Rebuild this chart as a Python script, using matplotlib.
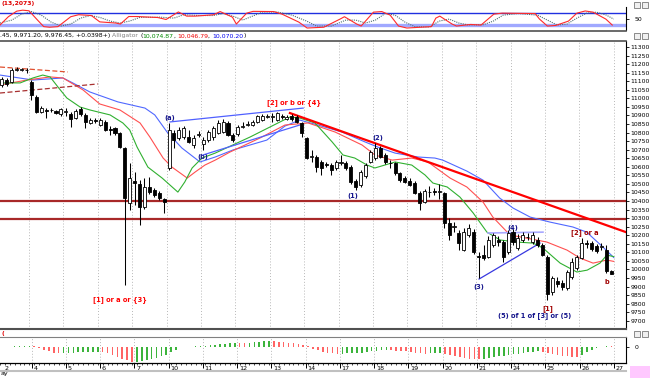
import matplotlib
matplotlib.use("Agg")
import matplotlib.pyplot as plt
import matplotlib.transforms as mtransforms
from matplotlib.patches import Rectangle
import numpy as np

W, H = 650, 378

# sessions shown on the time axis (7 hourly bars each)
day_labels = ["2", "4", "5", "6", "7", "10", "11", "12", "13", "14",
              "17", "18", "19", "20", "21", "24", "25", "26", "27"]

opens = [11095, 11078, 11107, 11095, 11166, 11166, 11166,
         11095, 11008, 10920, 10932, 10932, 10926, 10908,
         10920, 10908, 10885, 10938, 10903, 10856, 10873,
         10844, 10862, 10821, 10827, 10797, 10710, 10388,
         10517, 10499, 10365, 10482, 10464, 10447, 10411,
         10593, 10797, 10768, 10774, 10774, 10727, 10786,
         10733, 10756, 10774, 10797, 10803, 10856, 10786,
         10791, 10832, 10844, 10844, 10862, 10873, 10891,
         10891, 10873, 10897, 10879, 10897, 10891, 10856,
         10768, 10657, 10657, 10628, 10616, 10610, 10593,
         10622, 10622, 10598, 10517, 10493, 10546, 10628,
         10651, 10710, 10669, 10622, 10622, 10563, 10534,
         10517, 10505, 10447, 10394, 10452, 10458, 10452,
         10447, 10271, 10248, 10213, 10113, 10201, 10218,
         10078, 10084, 10072, 10143, 10172, 10160, 10102,
         10218, 10125, 10172, 10189, 10160, 10172, 10143,
         10072, 9868, 9932, 9920, 9891, 9956, 10008,
         10067, 10154, 10154, 10137, 10131, 10113, 9991]
highs = [11119, 11125, 11119, 11177, 11183, 11177, 11177,
         11107, 11019, 10955, 10943, 10943, 10932, 10943,
         10943, 10920, 10938, 10949, 10914, 10885, 10885,
         10885, 10873, 10838, 10832, 10803, 10715, 10622,
         10569, 10522, 10534, 10540, 10476, 10458, 10417,
         10856, 10815, 10832, 10838, 10815, 10786, 10809,
         10774, 10815, 10838, 10873, 10879, 10867, 10797,
         10844, 10862, 10867, 10873, 10903, 10908, 10908,
         10914, 10920, 10908, 10903, 10908, 10903, 10862,
         10774, 10698, 10669, 10639, 10628, 10622, 10639,
         10669, 10634, 10610, 10528, 10581, 10622, 10698,
         10739, 10721, 10680, 10639, 10628, 10569, 10546,
         10534, 10517, 10458, 10470, 10487, 10476, 10499,
         10452, 10300, 10277, 10230, 10242, 10265, 10236,
         10102, 10143, 10195, 10213, 10195, 10172, 10230,
         10236, 10207, 10218, 10213, 10218, 10189, 10154,
         10084, 9961, 9956, 9938, 9996, 10067, 10084,
         10183, 10172, 10166, 10148, 10154, 10143, 9996]
lows = [11072, 11066, 11072, 11090, 11160, 11160, 11148,
        10990, 10914, 10914, 10885, 10920, 10908, 10897,
        10897, 10832, 10879, 10897, 10827, 10850, 10856,
        10838, 10809, 10786, 10786, 10710, 9909, 10347,
        10376, 10259, 10353, 10441, 10423, 10406, 10330,
        10581, 10710, 10756, 10762, 10739, 10710, 10774,
        10698, 10745, 10756, 10791, 10797, 10780, 10745,
        10780, 10827, 10838, 10838, 10856, 10867, 10885,
        10862, 10867, 10879, 10873, 10867, 10856, 10774,
        10645, 10628, 10569, 10552, 10598, 10552, 10581,
        10610, 10581, 10499, 10464, 10482, 10534, 10622,
        10639, 10651, 10616, 10593, 10552, 10511, 10505,
        10487, 10441, 10347, 10388, 10423, 10435, 10411,
        10242, 10172, 10218, 10113, 10107, 10189, 10090,
        9950, 10055, 10067, 10131, 10137, 10043, 10090,
        10143, 10113, 10160, 10172, 10148, 10131, 10078,
        9821, 9850, 9897, 9880, 9880, 9944, 9996,
        10061, 10125, 10107, 10096, 10113, 9979, 9971]
closes = [11107, 11113, 11084, 11166, 11171, 11171, 11163,
          11019, 10920, 10943, 10926, 10930, 10914, 10938,
          10922, 10879, 10926, 10908, 10862, 10873, 10867,
          10873, 10815, 10815, 10797, 10715, 10417, 10534,
          10505, 10365, 10482, 10452, 10435, 10417, 10394,
          10815, 10756, 10815, 10827, 10745, 10768, 10791,
          10756, 10803, 10827, 10856, 10862, 10786, 10756,
          10832, 10838, 10850, 10862, 10897, 10897, 10897,
          10897, 10914, 10891, 10891, 10879, 10862, 10797,
          10651, 10663, 10598, 10593, 10610, 10581, 10628,
          10628, 10593, 10511, 10482, 10569, 10610, 10686,
          10710, 10657, 10628, 10620, 10563, 10522, 10511,
          10493, 10447, 10388, 10458, 10450, 10452, 10455,
          10271, 10201, 10254, 10154, 10218, 10242, 10102,
          10072, 10067, 10172, 10201, 10160, 10072, 10213,
          10160, 10183, 10201, 10187, 10201, 10143, 10084,
          9856, 9950, 9915, 9897, 9985, 10043, 10072,
          10154, 10148, 10119, 10107, 10137, 9991, 9976]

# lower oscillator histogram, one value per bar
osc = [2, 3, 4, 6, 8, 10, 12,
       8, -10, -30, -50, -65, -72, -70,
       -68, -66, -64, -62, -60, -58, -56,
       -60, -75, -95, -115, -135, -155, -175,
       -172, -165, -155, -145, -130, -110, -90,
       -60, -30, -5, 3, 5, 8, 12,
       16, 22, 28, 34, 40, 45, 48,
       46, 44, 50, 56, 62, 68, 70,
       66, 60, 54, 48, 42, 34, 24,
       10, -20, -40, -55, -65, -75, -80,
       -78, -75, -72, -70, -66, -60, -52,
       -45, -40, -38, -40, -42, -45, -50,
       -58, -65, -72, -78, -75, -72, -70,
       -80, -95, -108, -120, -130, -135, -140,
       -142, -138, -130, -120, -110, -100, -92,
       -85, -78, -70, -62, -56, -52, -54,
       -65, -80, -92, -102, -110, -118, -120,
       -95, -60, -30, -10, 5, 8, 6]

# stochastic (13): bar position, value
stoch_k_x = [0.6, 2.3, 4.0, 5.2, 6.5, 8.2, 9.5, 10.7, 12.4, 15, 16.6, 19.2, 20.9,
             24.2, 25.1, 26.8, 28.5, 32.7, 34.4, 36.9, 38.6, 40.3, 42, 44.1,
             45.4, 47.9, 48.7, 50.8, 52.1, 56.3, 58, 61.4, 63.1, 66.5, 69.8,
             70.7, 73.2, 74.1, 76.6, 78.3, 80, 81.7, 83.4, 88.4, 89.3, 90.1,
             92.6, 93.5, 96.4, 98.5, 101.1, 102.8, 109.5, 110.4, 112, 113.7,
             116.3, 118, 119.7, 121.3, 123.9, 125.2]
stoch_k = [20, 62, 90, 95, 92, 46, 12, 9, 12, 62, 72, 68, 36,
           30, 25, 63, 63, 58, 48, 86, 65, 65, 68, 72,
           88, 60, 25, 80, 89, 88, 75, 35, 5, 9, 50,
           62, 25, 15, 85, 88, 70, 15, 5, 12, 55, 65,
           25, 15, 23, 20, 75, 80, 78, 50, 15, 18,
           40, 80, 91, 85, 50, 20]
stoch_d_x = [0.6, 3, 5, 7, 9, 11, 13, 15, 17, 19, 21, 23, 25, 27, 29, 33, 36, 38,
             41, 44, 46, 48, 50, 52, 54, 57, 60, 63, 65, 68, 71, 73, 75, 77, 79,
             81, 83, 85, 88, 90, 92, 94, 96, 99, 101, 103, 106, 110, 112, 114,
             116, 118, 120, 122, 124, 125.5]
stoch_d = [30, 45, 75, 88, 70, 35, 15, 25, 55, 68, 58, 40, 30, 40, 58, 60, 55, 72,
           68, 68, 78, 65, 45, 65, 85, 86, 70, 40, 15, 15, 45, 45, 30, 45, 78,
           70, 35, 12, 10, 40, 50, 30, 20, 22, 40, 70, 78, 70, 45, 20,
           25, 55, 80, 85, 70, 50]

# Alligator lines (jaw / teeth / lips)
jaw_x = [0.6, 7.3, 13.4, 15.4, 18.9, 24.6, 30.1, 32.1, 34.6, 37.6, 41.3, 44.4,
         48, 54.9, 58.6, 61.6, 65.3, 70.2, 74.9, 77.5, 81, 85.7, 89.1, 90.7,
         95.6, 98.9, 102.3, 105, 108.5, 112.5, 117.2, 120, 123.3, 125.5]
jaw = [11136, 11107, 11119, 11090, 11037, 10979, 10943, 10903, 10803, 10710, 10628, 10657,
       10698, 10756, 10838, 10873, 10844, 10803, 10745, 10715, 10680, 10657, 10651, 10639,
       10575, 10522, 10417, 10359, 10306, 10277, 10248, 10218, 10131, 10070]
teeth_x = [0.6, 6.1, 10.8, 13.4, 17.5, 20.9, 25, 29.1, 31.1, 33.8, 35.6, 38.7, 40.3,
           42.3, 44.4, 47.4, 53.5, 58.6, 63.3, 68.8, 74.3, 76.9, 80.4, 84.4, 87.7,
           92.2, 95.6, 98.9, 100.9, 104.4, 107.8, 111.9, 116, 118.6, 121.3, 124.1, 125.5]
teeth = [11078, 11107, 11125, 11119, 11049, 10967, 10932, 10856, 10774, 10651, 10598, 10534, 10569,
         10610, 10639, 10686, 10768, 10844, 10856, 10803, 10727, 10669, 10639, 10651, 10628,
         10534, 10482, 10394, 10306, 10201, 10183, 10160, 10113, 10067, 10037, 10055, 10047]
lips_x = [0.6, 4.7, 7.3, 9.3, 10.8, 12.4, 14.2, 16.9, 18.9, 23, 25.6, 27, 28.5, 30.7,
          33.6, 36.8, 38.2, 39.7, 41.7, 44.4, 51.5, 59.6, 61.6, 64.7, 68.2, 70.4,
          72.8, 75.3, 76.9, 78.9, 81, 84.4, 87.1, 88.7, 91.6, 94.2, 96.9, 99.7,
          102.4, 105.8, 109.1, 111.1, 114.6, 118, 120.1, 122.7, 124.1, 125.5]
lips = [11090, 11090, 11119, 11136, 11125, 11066, 11002, 10949, 10932, 10903, 10856, 10815, 10715, 10598,
        10534, 10452, 10511, 10593, 10651, 10680, 10774, 10891, 10885, 10856, 10745, 10669,
        10651, 10610, 10593, 10610, 10628, 10610, 10552, 10505, 10482, 10423, 10330, 10218,
        10172, 10160, 10154, 10125, 10037, 9985, 9996, 10037, 10084, 10075]

# drawn studies: horizontal levels and trend lines (bar, price pairs)
h_levels = [10400, 10295]
red_trend_x, red_trend = [59.6, 128.0], [10914, 10218]
chan_hi_x, chan_hi = [35.2, 62.3], [10862, 10943]
chan_lo_x, chan_lo = [41.9, 61.6], [10669, 10844]
dash_hi_x, dash_hi = [0.6, 14.4], [11183, 11154]
dash_lo_x, dash_lo = [0.6, 20.5], [11031, 11084]
tri_lo_x, tri_lo = [98.1, 110.5], [9944, 10154]
tri_hi_x, tri_hi = [99.9, 111.1], [10213, 10218]

header_parts = [(".45, 9,971.20, 9,976.45, +0.0398+) ", "#000000"),
                ("Alligator ", "#808080"), ("(", "#000000"),
                ("10,074.87", "#008800"), (", ", "#000000"),
                ("10,046.79", "#ee0000"), (", ", "#000000"),
                ("10,070.20", "#0000ee"), (")", "#000000")]

fig = plt.figure(figsize=(W / 100, H / 100), dpi=100)


def px_axes(left, top, right, bottom):
    return fig.add_axes([left / W, 1 - bottom / H, (right - left) / W, (bottom - top) / H])


n = len(closes)
xb = np.arange(n)
bounds = [6.5 + 7 * k for k in range(18)]
xlim = (0.6, 128.0)

ax = px_axes(0, 41, 626, 329)
ax_st = px_axes(0, 7, 626, 30.5)
ax_os = px_axes(0, 337, 626, 363)

# ---- main price panel
for b in bounds:
    ax.axvline(b, color="#b8b8b8", ls=(0, (1, 2)), lw=0.7, zorder=0)
    ax_os.axvline(b, color="#b8b8b8", ls=(0, (1, 2)), lw=0.7, zorder=0)

for lv in h_levels:
    ax.axhline(lv, color="#a82828", lw=1.6, zorder=1)

ax.plot(jaw_x, jaw, color="#5068ff", lw=0.8, zorder=2)
ax.plot(teeth_x, teeth, color="#ff5050", lw=0.8, zorder=2)
ax.plot(lips_x, lips, color="#30b030", lw=0.8, zorder=2)

ax.plot(dash_hi_x, dash_hi, color="#e05030", lw=0.9, ls=(0, (4, 2)), zorder=2)
ax.plot(dash_lo_x, dash_lo, color="#a83030", lw=0.9, ls=(0, (4, 2)), zorder=2)
ax.plot(chan_hi_x, chan_hi, color="#5060ff", lw=0.9, zorder=2)
ax.plot(chan_lo_x, chan_lo, color="#5060ff", lw=0.9, zorder=2)
ax.plot(tri_lo_x, tri_lo, color="#3838e0", lw=0.9, zorder=2)
ax.plot(tri_hi_x, tri_hi, color="#a8a8ff", lw=1.2, zorder=2)
ax.plot(red_trend_x, red_trend, color="#ff0000", lw=1.6, zorder=2)

o = np.array(opens, float)
c = np.array(closes, float)
hi = np.array(highs, float)
lo = np.array(lows, float)
up = c >= o
ax.vlines(xb, lo, hi, color="black", lw=0.75, zorder=3)
body_lo = np.minimum(o, c)
body_h = np.maximum(np.abs(c - o), 4)
ax.bar(xb, body_h, bottom=body_lo, width=0.62,
       color=np.where(up, "white", "black"), edgecolor="black", lw=0.6, zorder=4)

navy = "#14148c"
dred = "#a00000"
lab = dict(fontsize=4.8, fontweight="bold", ha="center", va="center", zorder=6)
ax.text(35.2, 10885, "(a)", color=navy, **lab)
ax.text(41.9, 10657, "(b)", color=navy, **lab)
ax.text(60.4, 10973, "[2] or b or {4}", color="#ff0000", **lab)
ax.text(25, 9827, "[1] or a or {3}", color="#ff0000", **lab)
ax.text(72.4, 10429, "(1)", color=navy, **lab)
ax.text(77.5, 10768, "(2)", color=navy, **lab)
ax.text(98.1, 9897, "(3)", color=navy, **lab)
ax.text(105, 10242, "(4)", color=navy, **lab)
ax.text(109.5, 9728, "(5) of 1 of [3] or (5)", color=navy, **lab)
ax.text(112.1, 9774, "[1]", color=dred, **lab)
ax.text(119.6, 10218, "[2] or a", color=dred, **lab)
ax.text(124.1, 9926, "b", color=dred, **lab)

ax.set_xlim(*xlim)
ax.set_ylim(9652, 11335)
ax.set_xticks([])
ax.yaxis.tick_right()
ax.set_yticks(range(9700, 11301, 50))
ax.tick_params(axis="y", labelsize=4.4, length=2, width=0.6, pad=1, colors="black")
ax.spines["left"].set_visible(False)
ax.spines["top"].set_color("#505050")
ax.spines["top"].set_linewidth(1.2)
ax.spines["bottom"].set_color("#505050")
ax.spines["bottom"].set_linewidth(1.5)
ax.spines["right"].set_linewidth(0.8)

# ---- stochastic strip
ax_st.axhline(80, color="#2030e0", lw=1.0)
ax_st.axhline(20, color="#a0a8ff", lw=2.4)
ax_st.plot(stoch_d_x, stoch_d, color="#507070", lw=0.8, ls=(0, (1, 1)))
ax_st.plot(stoch_k_x, stoch_k, color="#ff2a2a", lw=0.8)
ax_st.set_xlim(*xlim)
ax_st.set_ylim(-7.5, 111)
ax_st.set_xticks([])
ax_st.yaxis.tick_right()
ax_st.set_yticks([50])
ax_st.tick_params(axis="y", labelsize=4.4, length=2, width=0.6, pad=4)
ax_st.spines["left"].set_visible(False)
ax_st.spines["top"].set_visible(False)
ax_st.spines["bottom"].set_color("#505050")
ax_st.spines["bottom"].set_linewidth(1.2)
ax_st.spines["right"].set_linewidth(0.8)

# ---- oscillator histogram
osc_a = np.array(osc, float)
rising = np.concatenate([[True], np.diff(osc_a) >= 0])
ax_os.bar(xb, osc_a, width=0.32, color=np.where(rising, "#3cb43c", "#ff6464"), zorder=2)
ax_os.set_xlim(*xlim)
ax_os.set_ylim(-186.7, 116.7)
ax_os.yaxis.tick_right()
ax_os.set_yticks([0])
ax_os.tick_params(axis="y", labelsize=4.4, length=2, width=0.6, pad=4)
ax_os.set_xticks(bounds)
ax_os.set_xticklabels([])
ax_os.set_xticks(xb, minor=True)
ax_os.tick_params(axis="x", which="major", length=3.5, width=0.7, direction="out")
ax_os.tick_params(axis="x", which="minor", length=1.5, width=0.5, direction="out")
ax_os.spines["left"].set_visible(False)
ax_os.spines["top"].set_color("#808080")
ax_os.spines["bottom"].set_linewidth(0.9)
ax_os.spines["right"].set_linewidth(0.8)

trans = mtransforms.blended_transform_factory(ax_os.transData, ax_os.transAxes)
ax_os.text(1.0, -0.12, day_labels[0], transform=trans, fontsize=4.6, ha="left", va="top", clip_on=False)
for b, lbl in zip(bounds, day_labels[1:]):
    ax_os.text(b + 0.35, -0.12, lbl, transform=trans, fontsize=4.6, ha="left", va="top", clip_on=False)

# ---- figure furniture: titles, header row, buttons
fig.text(1 / W, 1 - 4 / H, "(13,2073)", color="#e00000", fontsize=4.4, fontweight="bold", va="center")
fig.text(1 / W, 1 - 333 / H, "(", color="#e00000", fontsize=4.4, fontweight="bold", va="center")
fig.text(0.5 / W, 1 - 374 / H, "ay", color="black", fontsize=4.6, va="center")

renderer = fig.canvas.get_renderer()
xp = 0.0
for txt, col in header_parts:
    t = fig.text(xp / W, 1 - 36 / H, txt, color=col, fontsize=4.4, va="center", ha="left")
    xp += t.get_window_extent(renderer=renderer).width

fig.add_artist(plt.Line2D([0, 626 / W], [1 - 371 / H, 1 - 371 / H], color="#c0c0c0", lw=1.5))
fig.add_artist(Rectangle((630 / W, 0), 20 / W, 12 / H, color="#ffc8ff", lw=0))
for yb in (2, 33, 331):
    for xbx in (634, 642):
        fig.add_artist(Rectangle((xbx / W, 1 - (yb + 6) / H), 6 / W, 6 / H,
                                 facecolor="#f0f0f0", edgecolor="#606060", lw=0.5))

fig.savefig("out.png", dpi=100)
